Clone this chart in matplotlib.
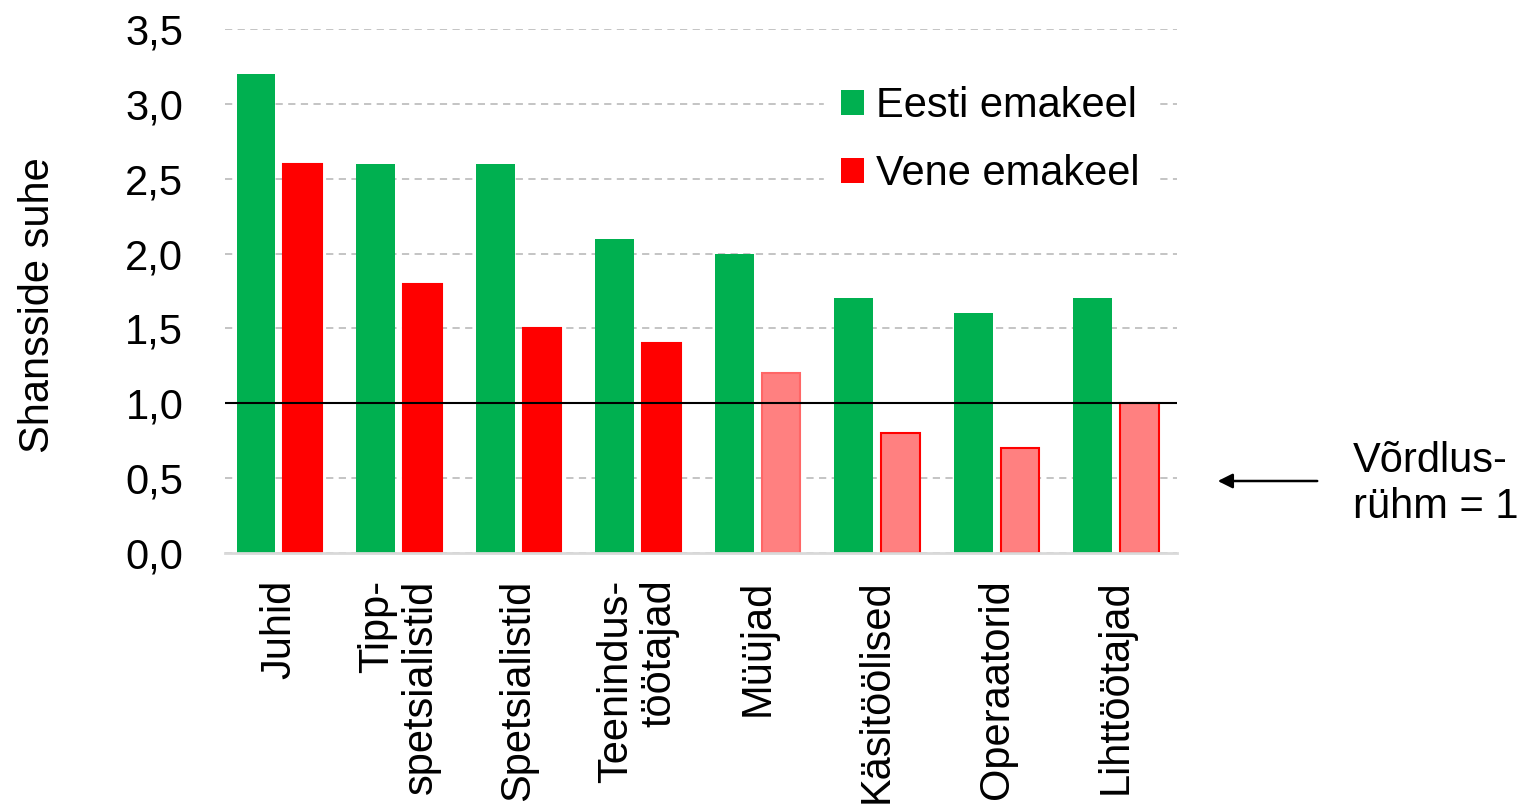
import matplotlib.pyplot as plt
from matplotlib.patches import Patch
import numpy as np

# data
categories = ["Juhid", "Tipp-\nspetsialistid", "Spetsialistid", "Teenindus-\ntöötajad",
              "Müüjad", "Käsitöölised", "Operaatorid", "Lihttöötajad"]
eesti = [3.2, 2.6, 2.6, 2.1, 2.0, 1.7, 1.6, 1.7]
vene = [2.6, 1.8, 1.5, 1.4, 1.2, 0.8, 0.7, 1.0]
vene_fill = ["#FF0000"] * 4 + ["#FF8080"] * 4
vene_edge = ["#FF0000"] * 4 + ["#FF6666", "#FF0000", "#FF0000", "#FF0000"]
yticks = [0.0, 0.5, 1.0, 1.5, 2.0, 2.5, 3.0, 3.5]

plt.rcParams['font.family'] = ['Liberation Sans', 'DejaVu Sans']
plt.rcParams['font.size'] = 30

fig = plt.figure(figsize=(15.22, 8.07), dpi=100)
ax = fig.add_axes([225 / 1522, 1 - 553 / 807, (1177 - 225) / 1522, (553 - 29) / 807])

x = np.arange(len(categories))
w = 0.325
off = 0.196
ax.bar(x - off, eesti, w, color="#00B050", zorder=3)
ax.bar(x + off, vene, w, color=vene_fill, edgecolor=vene_edge, linewidth=1.5, zorder=3)

# reference line
ax.axhline(1.0, color="black", linewidth=1.5, zorder=4)

ax.set_ylim(0, 3.5)
ax.set_xlim(-0.456, 7.51)
ax.set_yticks(yticks)
ax.set_yticklabels([f"{v:.1f}".replace(".", ",") for v in yticks])
ax.set_xticks(x)
ax.set_xticklabels(categories, rotation=90, multialignment="right", linespacing=1.1)
ax.tick_params(axis="y", length=0, pad=30)
ax.tick_params(axis="x", length=0, pad=19)

ax.grid(axis="y", color="#BFBFBF", linestyle=(0, (4, 3)), linewidth=1.3, zorder=0)
for s in ["top", "right", "left"]:
    ax.spines[s].set_visible(False)
ax.spines["bottom"].set_color("#D9D9D9")
ax.spines["bottom"].set_linewidth(2)
ax.spines["bottom"].set_zorder(5)

ax.set_ylabel("Shansside suhe")
ax.yaxis.set_label_coords(58 / 1522, 1 - 305 / 807, transform=fig.transFigure)

handles = [Patch(facecolor="#00B050"), Patch(facecolor="#FF0000")]
leg = ax.legend(handles, ["Eesti emakeel", "Vene emakeel"], loc="upper right",
                bbox_to_anchor=(1.0, 0.963), frameon=True, framealpha=1, edgecolor="white",
                handlelength=0.55, handleheight=0.55, handletextpad=0.3, labelspacing=0.68,
                borderpad=0.4, fancybox=False)
leg.set_zorder(6)

# comparison group note
ax.annotate("", xy=(1215 / 1522, 1 - 481 / 807), xytext=(1320 / 1522, 1 - 481 / 807),
            xycoords="figure fraction", textcoords="figure fraction",
            arrowprops=dict(arrowstyle="-|>", color="black", linewidth=1.8, mutation_scale=22))
fig.text(1353 / 1522, 1 - 484 / 807, "Võrdlus-\nrühm = 1", ha="left", va="center", linespacing=1.2)

plt.savefig("out.png", dpi=100)
